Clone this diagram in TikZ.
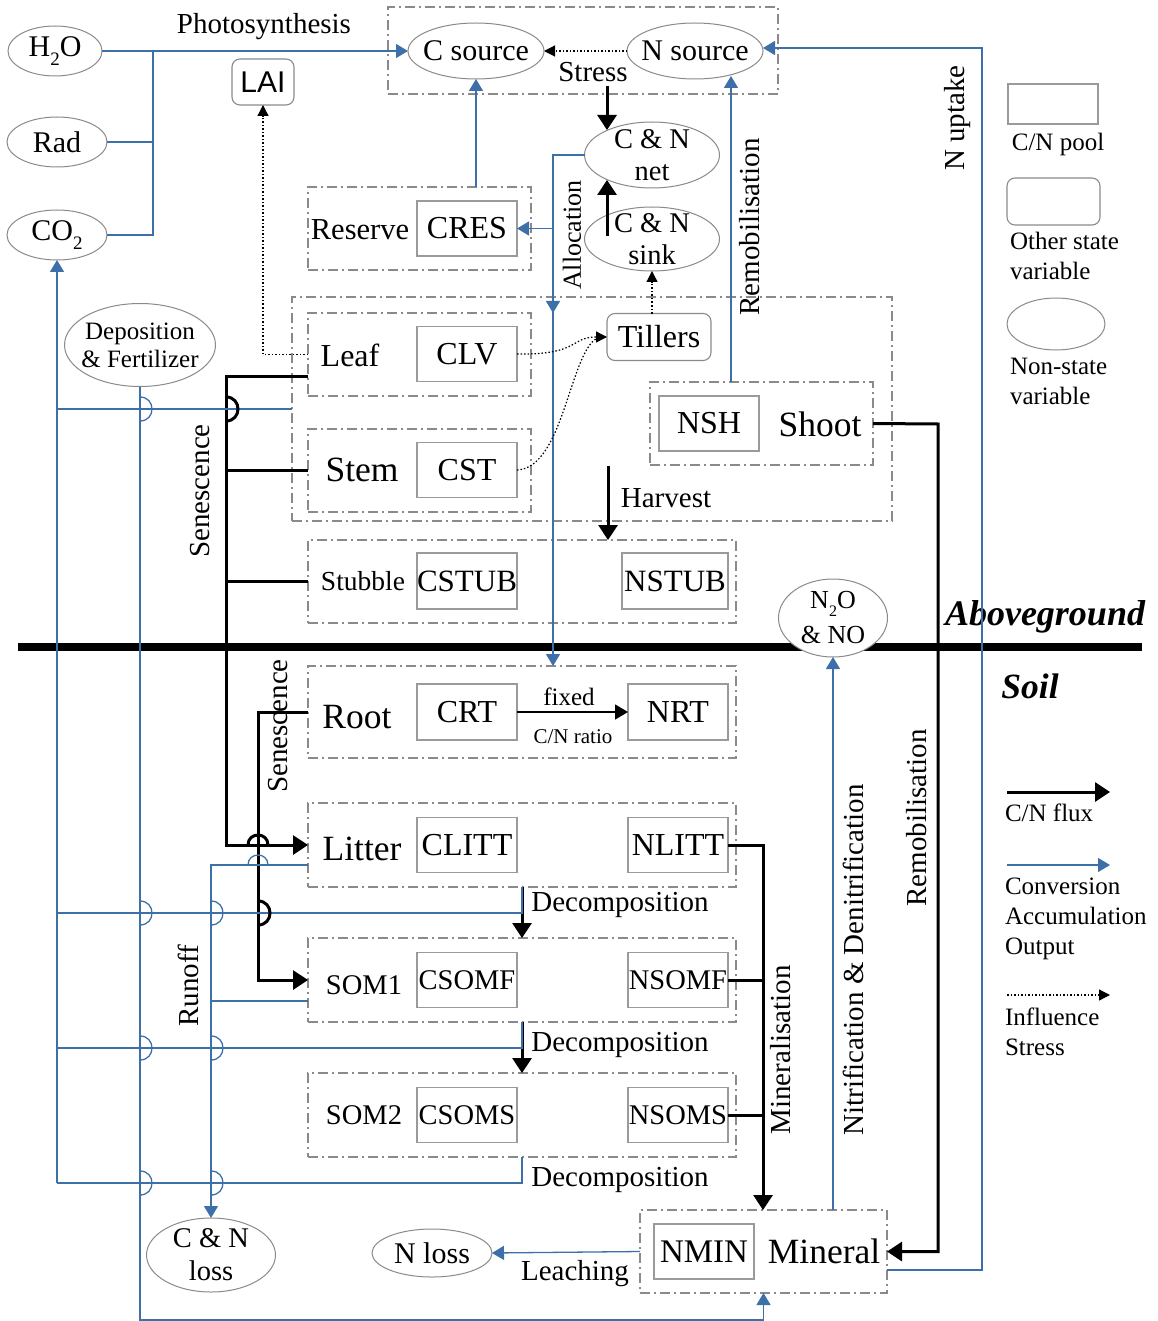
\documentclass[tikz,border=0pt]{standalone}
\usepackage{fontspec}
\setmainfont{Liberation Serif}
\newfontfamily\laifont{Liberation Sans}
\usetikzlibrary{arrows.meta,shapes.geometric,calc}
\definecolor{bl}{HTML}{3D6FA8}
\definecolor{bx}{HTML}{8A8A8A}
\definecolor{pb}{HTML}{9A9A9A}
\newcommand\fsz[2]{\fontsize{#1}{#2}\selectfont}
\newcommand\sub[2]{\raisebox{-0.28em}{\fsz{#1}{#1}#2}}
\newcommand\hopr[3]{\draw[#3] (#1,#2-12) .. controls (#1+16,#2-12) and (#1+16,#2+12) .. (#1,#2+12);}
\newcommand\hopu[3]{\draw[#3] (#1-10,#2) .. controls (#1-10,#2-13.3) and (#1+10,#2-13.3) .. (#1+10,#2);}
\begin{document}
\begin{tikzpicture}[x=1pt,y=-1pt,
  every node/.style={inner sep=0pt,outer sep=0pt},
  sz/.style 2 args={minimum width=#1pt,minimum height=#2pt},
  grp/.style={draw=bx,line width=1.3pt,dash pattern=on 10pt off 4pt on 2pt off 4pt},
  pool/.style={draw=pb,line width=1.2pt,sz={100}{55},font={\fsz{32}{36}}},
  ell/.style={ellipse,draw=bx,line width=1pt,fill=white},
  et/.style={align=center,font={\fsz{30}{34}}},
  rbox/.style={draw=bx,line width=1.1pt,rounded corners=8pt},
  flux/.style={line width=3pt,-{Triangle[length=15pt,width=19pt]}},
  fluxl/.style={line width=3pt},
  bll/.style={draw=bl,line width=1.3pt},
  bla/.style={bll,-{Triangle[length=12pt,width=14pt]}},
  dots/.style={line width=1.2pt,dash pattern=on 1.5pt off 2pt},
  dota/.style={dots,-{Triangle[length=11pt,width=11pt]}},
  lbl/.style={font={\fsz{29}{33}}},
  big/.style={font={\fsz{35.5}{40}}},
  leg/.style={font={\fsz{25}{30}},align=left,anchor=north west},
]
\useasboundingbox (0,0) rectangle (1157,1321);

% ground line
\draw[line width=7.5pt] (18,647) -- (1142,647);

% ---------- top ----------
\node[grp,sz={390}{87}] (topg) at (583,50.5) {};
\node[ell,sz={136}{56}] (csrc) at (476,51) {};
\node[et] at (csrc) {C source};
\node[ell,sz={136}{56}] (nsrc) at (695,51) {};
\node[et] at (nsrc) {N source};
\node[ell,sz={94}{50}] (h2o) at (55,51) {};
\node[et] at (h2o) {H\sub{19}{2}O};
\node[ell,sz={100}{50}] (rad) at (57,142) {};
\node[et] at (rad) {Rad};
\node[ell,sz={100}{50}] (co2) at (57,235) {};
\node[et] at (co2) {CO\sub{19}{2}};
\node[rbox,sz={62}{46},font={\laifont\fsz{30}{34}}] (lai) at (263,82) {LAI};
\node[ell,sz={135}{66}] (cnnet) at (652,155) {};
\node[et,font={\fsz{28.5}{32}}] at (cnnet) {C \& N\\net};
\node[ell,sz={135}{64}] (cnsink) at (652,239) {};
\node[et,font={\fsz{28.5}{32}}] at (cnsink) {C \& N\\sink};
\node[lbl] at (264,27) {Photosynthesis};
\node[lbl] at (593,72) {Stress};

% reserve
\node[grp,sz={223}{83}] (resg) at (419.5,228.5) {};
\node[font={\fsz{30.5}{34}}] at (360,230) {Reserve};
\node[pool] (cres) at (467,228.5) {CRES};

% leaf group
\node[grp,sz={600}{224}] (leafgrp) at (592,409) {};
\node[grp,sz={223}{83}] (leafg) at (419.5,354.5) {};
\node[font={\fsz{32}{36}}] at (350,355) {Leaf};
\node[pool] (clv) at (467,354) {CLV};
\node[grp,sz={223}{83}] (stemg) at (419.5,470.5) {};
\node[big] at (362,470) {Stem};
\node[pool] (cst) at (467,470) {CST};
\node[rbox,sz={104}{47},font={\fsz{32}{36}}] (tillers) at (659,337) {Tillers};
\node[grp,sz={223}{83}] (shootg) at (761.5,423.5) {};
\node[pool] (nsh) at (709,423.5) {NSH};
\node[big] at (820,424) {Shoot};
\node[lbl] at (666,498) {Harvest};

% stubble
\node[grp,sz={428}{83}] (stubg) at (522,581.5) {};
\node[font={\fsz{27.5}{31}}] at (363,581) {Stubble};
\node[pool,sz={100}{56},font={\fsz{31}{35}}] (cstub) at (467,581) {CSTUB};
\node[pool,sz={106}{56},font={\fsz{31}{35}}] (nstub) at (675,581) {NSTUB};

\node[ell,sz={109}{78}] (n2o) at (833,618) {};
\node[et,font={\fsz{26}{35}}] at (n2o) {N\sub{16}{2}O\\\& NO};
\node[ell,sz={151}{83}] (depo) at (140,345) {};
\node[et,font={\fsz{25}{28}}] at (depo) {Deposition\\\& Fertilizer};

\node[font={\bfseries\itshape\fsz{36}{40}}] at (1045,617) {Aboveground};
\node[font={\bfseries\itshape\fsz{35.5}{40}}] at (1030,686) {Soil};

% ---------- soil ----------
\node[grp,sz={428}{92}] (rootg) at (522,712) {};
\node[big] at (357,717) {Root};
\node[pool,sz={100}{56}] (crt) at (467,712) {CRT};
\node[pool,sz={100}{56}] (nrt) at (678,712) {NRT};
\node[font={\fsz{25}{29}}] at (569,697) {fixed};
\node[font={\fsz{21}{24}}] at (573,737) {C/N ratio};

\node[grp,sz={428}{84}] (litg) at (522,845) {};
\node[big] at (362,849) {Litter};
\node[pool] (clitt) at (467,845) {CLITT};
\node[pool] (nlitt) at (678,845) {NLITT};

\node[grp,sz={428}{84}] (som1g) at (522,980) {};
\node[font={\fsz{28.5}{32}}] at (364,985) {SOM1};
\node[pool,font={\fsz{28.5}{32}}] (csomf) at (467,980) {CSOMF};
\node[pool,font={\fsz{28.5}{32}}] (nsomf) at (678,980) {NSOMF};

\node[grp,sz={428}{84}] (som2g) at (522,1115) {};
\node[font={\fsz{28.5}{32}}] at (364,1115) {SOM2};
\node[pool,font={\fsz{28.5}{32}}] (csoms) at (467,1115) {CSOMS};
\node[pool,font={\fsz{28.5}{32}}] (nsoms) at (678,1115) {NSOMS};

\node[lbl] at (620,905) {Decomposition};
\node[lbl] at (620,1045) {Decomposition};
\node[lbl] at (620,1180) {Decomposition};

\node[grp,sz={247}{83}] (ming) at (763.5,1251.5) {};
\node[pool,font={\fsz{33}{37}}] (nmin) at (704,1251.5) {NMIN};
\node[big] at (824,1251) {Mineral};
\node[ell,sz={120}{48}] (nloss) at (432,1253) {};
\node[et] at (nloss) {N loss};
\node[ell,sz={129}{74}] (cnloss) at (211,1255) {};
\node[et,font={\fsz{28.5}{33}}] at (cnloss) {C \& N\\loss};
\node[lbl] at (575,1274) {Leaching};

% rotated labels
\node[lbl,rotate=90] at (200,491) {Senescence};
\node[lbl,rotate=90] at (278,726) {Senescence};
\node[font={\fsz{26}{30}},rotate=90] at (572,235) {Allocation};
\node[lbl,rotate=90] at (750,227) {Remobilisation};
\node[lbl,rotate=90] at (958,118) {N uptake};
\node[lbl,rotate=90] at (188,986) {Runoff};
\node[lbl,rotate=90] at (781,1050) {Mineralisation};
\node[lbl,rotate=90] at (853,960) {Nitrification \& Denitrification};
\node[lbl,rotate=90] at (917,818) {Remobilisation};

% ---------- connectors ----------
\coordinate (bus) at (153,51);
\draw[bll] (h2o.east) -- (bus);
\draw[bll] (rad.east) -| (bus);
\draw[bll] (co2.east) -| (bus);
\draw[bla] (bus) -- (csrc.west);

\draw[dota] (nsrc.west) -- (csrc.east);
\coordinate (stressS) at (607,86);
\coordinate (stressE) at (607,130);
\draw[flux] (stressS) -- (stressE);
\coordinate (sinkS) at (607,236);
\coordinate (sinkE) at (607,180);
\draw[flux] (sinkS) -- (sinkE);
\draw[dota] (cnsink.south |- tillers.north) -- (cnsink.south);

\coordinate (alloc) at (553,155);
\draw[bla] (cnnet.west) -- (alloc) -- (alloc |- rootg.north);
\draw[bla] (alloc) -- (alloc |- leafg.north);
\draw[bla] (alloc |- cres.east) -- (cres.east);
\draw[bla] (csrc.south |- resg.north) -- (csrc.south);

\draw[bla] (731,0 |- shootg.north) -- (731,76);
\coordinate (nu1) at (982,1270);
\coordinate (nu2) at (982,48);
\draw[bla] (ming.east |- nu1) -- (nu1) -- (nu2) -- (nsrc.east |- nu2);

\draw[dota] (leafg.west) -| (lai.south);
\draw[dota] (clv.east) .. controls (580,355) and (570,337) .. (tillers.west);
\draw[dots] (cst.east) .. controls (565,468) and (570,345) .. (600,337);

\coordinate (harvS) at (608,466);
\draw[flux] (harvS) -- (harvS |- stubg.north);

% senescence aboveground
\coordinate (sen1) at (226,376);
\draw[flux] (leafg.west |- sen1) -- (sen1) -- (sen1 |- litg.west) -- (litg.west);
\draw[fluxl] (stemg.west) -- (stemg.west -| sen1);
\draw[fluxl] (stubg.west) -- (stubg.west -| sen1);

% root senescence
\coordinate (sen2) at (258,712);
\draw[flux] (rootg.west) -- (sen2) -- (sen2 |- som1g.west) -- (som1g.west);

% decomposition
\draw[flux] (litg.south) -- (som1g.north);
\draw[flux] (som1g.south) -- (som2g.north);

% respiration to CO2
\coordinate (r0) at (57,409);
\coordinate (r1) at (57,913);
\coordinate (r2) at (57,1048);
\coordinate (r3) at (57,1183);
\draw[bll] (leafgrp.west |- r0) -- (r0);
\draw[bll] (litg.south) -- (litg.south |- r1) -- (r1);
\draw[bll] (som1g.south) -- (som1g.south |- r2) -- (r2);
\draw[bll] (som2g.south) -- (som2g.south |- r3) -- (r3);
\draw[bla] (r3) -- (co2.south);

% runoff
\coordinate (ro) at (211,865);
\draw[bla] (litg.west |- ro) -- (ro) -- (cnloss.north);
\draw[bll] (som1g.west |- 0,1001) -- (ro |- 0,1001);

% deposition
\coordinate (dp) at (140,1320);
\draw[bla] (depo.south) -- (dp) -| (ming.south);

% mineralisation
\coordinate (mn) at (763,845);
\draw[flux] (nlitt.east) -- (mn) -- (mn |- ming.north);
\draw[fluxl] (nsomf.east) -- (nsomf.east -| mn);
\draw[fluxl] (nsoms.east) -- (nsoms.east -| mn);

% shoot remobilisation
\coordinate (rm) at (938,424);
\draw[flux] (shootg.east) -- (rm) -- (rm |- ming.east) -- (ming.east);

% nitrification
\draw[bla] (n2o.south |- ming.north) -- (n2o.south);
% leaching
\draw[bla] (ming.west) -- (nloss.east);
% fixed ratio
\draw[line width=1.5pt,-{Triangle[length=13pt,width=15pt]}] (crt.east) -- (nrt.west);

% hops
\hopr{140}{409}{bll}
\hopr{140}{913}{bll}
\hopr{140}{1048}{bll}
\hopr{140}{1183}{bll}
\hopr{211}{913}{bll}
\hopr{211}{1048}{bll}
\hopr{211}{1183}{bll}
\hopr{226}{409}{line width=3pt}
\hopr{258}{913}{line width=3pt}
\hopu{258}{845}{line width=3pt}
\hopu{258}{865}{bll}

% ---------- legend ----------
\node[draw=pb,line width=1.2pt,sz={90}{40}] (lgpool) at (1053,104) {};
\node[font={\fsz{25}{30}}] at (1058,144) {C/N pool};
\node[rbox,sz={93}{47}] (lgstate) at (1053.5,201.5) {};
\node[leg] at (1010,232) {Other state\\variable};
\node[ell,sz={98}{52}] (lgell) at (1056,324) {};
\node[leg] at (1010,358) {Non-state\\variable};
\coordinate (l1a) at (1007,792); \coordinate (l1b) at (1110,792);
\draw[flux] (l1a) -- (l1b);
\node[leg] at (1005,804) {C/N flux};
\coordinate (l2a) at (1007,865); \coordinate (l2b) at (1110,865);
\draw[bla] (l2a) -- (l2b);
\node[leg] at (1005,878) {Conversion\\Accumulation\\Output};
\coordinate (l3a) at (1007,995); \coordinate (l3b) at (1110,995);
\draw[dota] (l3a) -- (l3b);
\node[leg] at (1005,1008) {Influence\\Stress};
\end{tikzpicture}
\end{document}
